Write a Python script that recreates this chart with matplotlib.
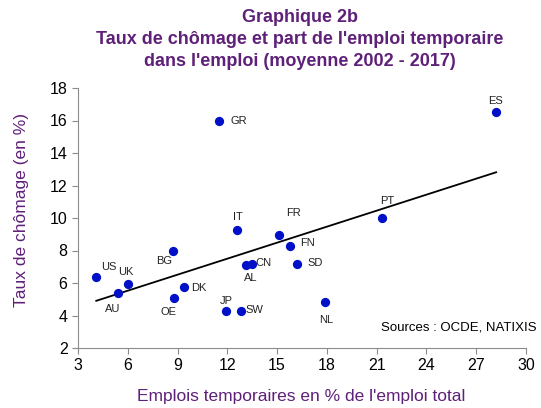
import numpy as np
import matplotlib.pyplot as plt

plt.rcParams['font.family'] = ['Liberation Sans', 'DejaVu Sans']

# Data: temporary jobs (% of total) vs unemployment rate (%), average 2002-2017
countries = ["US", "AU", "UK", "BG", "OE", "DK", "GR", "JP", "IT", "SW",
             "AL", "CN", "FR", "FN", "SD", "NL", "PT", "ES"]
temp_jobs = [4.1, 5.4, 6.0, 8.7, 8.8, 9.4, 11.5, 11.9, 12.6, 12.8,
             13.1, 13.5, 15.1, 15.8, 16.2, 17.9, 21.3, 28.2]
unemployment = [6.35, 5.4, 5.95, 7.95, 5.1, 5.75, 15.95, 4.25, 9.25, 4.3,
                7.1, 7.15, 8.95, 8.3, 7.15, 4.85, 10.0, 16.55]

# label offsets in pixels (dx right, dy down)
offsets = {"US": (13, -10), "AU": (-5, 16), "UK": (-2, -12), "BG": (-8, 10),
           "OE": (-6, 14), "DK": (15, 1), "GR": (20, 0), "JP": (1, -10),
           "IT": (1, -13), "SW": (14, -1), "AL": (5, 13), "CN": (11, -1),
           "FR": (15, -22), "FN": (17, -3), "SD": (18, -1), "NL": (1, 18),
           "PT": (6, -17), "ES": (-1, -11)}

purple = "#5e2078"

fig = plt.figure(figsize=(5.41, 4.08), dpi=100)
ax = fig.add_axes([78 / 541, 60 / 408, 448 / 541, 260 / 408])

ax.scatter(temp_jobs, unemployment, s=32, color="#0010c8", zorder=3)

# linear trend
x = np.array(temp_jobs)
slope, intercept = np.polyfit(x, unemployment, 1)
xs = np.array([x.min(), x.max()])
ax.plot(xs, slope * xs + intercept, color="black", lw=1.3, zorder=2)

for c, xv, yv in zip(countries, temp_jobs, unemployment):
    dx, dy = offsets[c]
    ax.annotate(c, (xv, yv), xytext=(dx * 0.72, -dy * 0.72), textcoords="offset points",
                ha="center", va="center", fontsize=8, color="#222222")

ax.set_xlim(3, 30)
ax.set_ylim(2, 18)
ax.set_xticks(range(3, 31, 3))
ax.set_yticks(range(2, 19, 2))
for side in ["top", "right"]:
    ax.spines[side].set_visible(False)
for side in ["left", "bottom"]:
    ax.spines[side].set_color("#8c8c8c")
ax.tick_params(colors="#8c8c8c", labelcolor="black", labelsize=11.5, length=4)

ax.text(537 / 541, (408 - 328) / 408, "Sources : OCDE, NATIXIS", transform=fig.transFigure,
        ha="right", va="center", fontsize=9.5, color="black")

fig.text(300 / 541, 1 - 18 / 408, "Graphique 2b", ha="center", va="center",
         fontsize=13, fontweight="bold", color=purple)
fig.text(300 / 541, 1 - 40 / 408, "Taux de chômage et part de l'emploi temporaire",
         ha="center", va="center", fontsize=13, fontweight="bold", color=purple)
fig.text(300 / 541, 1 - 61 / 408, "dans l'emploi (moyenne 2002 - 2017)",
         ha="center", va="center", fontsize=13, fontweight="bold", color=purple)

fig.text(301 / 541, 1 - 397 / 408, "Emplois temporaires en % de l'emploi total",
         ha="center", va="center", fontsize=12.5, color=purple)
fig.text(22 / 541, 1 - 210 / 408, "Taux de chômage (en %)", rotation=90,
         ha="center", va="center", fontsize=12.5, color=purple)

fig.savefig("out.png", dpi=100)
